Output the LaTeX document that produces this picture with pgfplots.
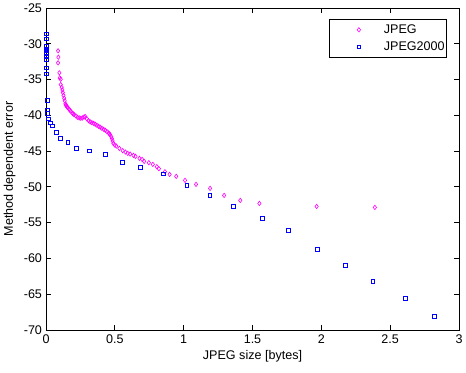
\documentclass[border=0pt]{standalone}
\usepackage{fontspec}
\setmainfont{Liberation Sans}
\usepackage{pgfplots}
\pgfplotsset{compat=1.18}
\definecolor{mmag}{rgb}{1,0,1}
\definecolor{mblue}{rgb}{0,0,1}
\newcommand{\mfont}{\fontsize{12.6}{15}\selectfont}
\begin{document}
\begin{tikzpicture}
\path[use as bounding box] (-46bp,-43bp) rectangle (420bp,330bp);
\begin{axis}[
  at={(0,0)}, anchor=south west,
  width=413bp, height=322bp, scale only axis,
  xmin=0, xmax=300000, ymin=-70, ymax=-25,
  xtick={0,50000,100000,150000,200000,250000,300000},
  xticklabels={0,0.5,1,1.5,2,2.5,3},
  scaled x ticks=false,
  ytick={-70,-65,...,-25},
  tick align=inside,
  major tick length=5bp,
  axis line style={line width=0.8bp},
  every tick/.style={line width=0.8bp, black},
  tick label style={font=\mfont},
  /pgf/number format/assume math mode=true,
  xticklabel style={yshift=-1bp},
  yticklabel style={xshift=-0.5bp},
  xlabel={JPEG size [bytes]},
  ylabel={Method dependent error},
  label style={font=\mfont},
  xlabel style={at={(axis description cs:0.5,0)}, anchor=north, yshift=-17bp},
  ylabel style={at={(axis description cs:0,0.5)}, anchor=south, yshift=27bp},
  legend style={at={(axis description cs:0.971,0.965)}, anchor=north east,
    font=\mfont, draw=black, line width=0.8bp, inner xsep=0bp, inner ysep=3bp,
    row sep=3bp, cells={anchor=west}},
  legend image code/.code={%
    \path[draw=none, fill=none] (0bp,-4bp) rectangle (53bp,4bp);
    \draw[#1, only marks, mark repeat=2, mark phase=2] plot coordinates {(0bp,0bp) (30bp,0bp) (53bp,0bp)};},
]
\addplot[only marks, mark=diamond, mark size=2.2bp, color=mmag, mark options={line width=0.6bp}]
coordinates {
(8760,-30.98) (9000,-31.87) (8760,-32.66) (9730,-34.06) (9980,-34.76)
(10700,-34.95) (10700,-35.70) (11400,-36.07) (11900,-36.44) (12200,-36.82)
(12700,-37.19) (13200,-37.61) (13600,-37.98) (14100,-38.40) (14500,-38.55)
(14800,-38.68) (15300,-38.80) (15800,-38.92) (16800,-39.15) (17400,-39.30)
(18000,-39.43) (19200,-39.71) (19800,-39.80) (20400,-39.90) (21700,-40.08)
(22900,-40.27) (24100,-40.36) (25300,-40.41) (26500,-40.36) (27700,-40.22)
(28500,-40.17) (29700,-40.50) (30900,-40.74) (32100,-40.92) (33300,-41.02)
(34600,-41.11) (35800,-41.25) (37000,-41.39) (38200,-41.53) (39400,-41.67)
(40600,-41.81) (41900,-41.95) (43100,-42.09) (44300,-42.28) (45500,-42.46)
(46000,-42.58) (46500,-42.70) (47400,-42.98) (47900,-43.26) (48400,-43.59)
(48900,-43.91) (49900,-44.15) (51100,-44.29) (53300,-44.61) (55700,-44.94)
(57700,-45.13) (59400,-45.31) (61100,-45.41) (63500,-45.59) (65000,-45.73)
(67900,-46.01) (69800,-46.15) (71300,-46.43) (74700,-46.62) (77600,-46.85)
(80500,-47.18) (82000,-47.46) (86400,-47.88) (89800,-48.25) (94600,-48.53)
(101000,-49.09) (109000,-49.65) (119200,-50.21) (129400,-51.19) (141100,-51.89)
(155000,-52.31) (196600,-52.73) (238900,-52.87)
};
\addlegendentry{JPEG}
\addplot[only marks, mark=square, mark size=1.8bp, color=mblue, mark options={line width=0.9bp}]
coordinates {
(300,-28.64) (300,-29.34) (300,-30.38) (300,-30.70) (300,-31.00)
(300,-31.36) (300,-31.72) (300,-32.28) (300,-33.40) (300,-34.24)
(950,-37.90) (950,-39.25) (950,-39.70) (1700,-40.50) (3100,-41.06)
(4900,-41.50) (7800,-42.37) (10700,-43.20) (15800,-43.77) (22100,-44.60)
(31600,-45.00) (43300,-45.45) (55700,-46.57) (68800,-47.27) (85200,-48.20)
(102400,-49.79) (119200,-51.19) (136000,-52.73) (157100,-54.41) (176100,-56.09)
(197300,-58.75) (217700,-60.99) (237400,-63.24) (261100,-65.62) (282000,-68.14)
};
\addlegendentry{JPEG2000}
\node[font=\mfont, anchor=base west, inner sep=0pt] at (axis description cs:0.895,-0.12) {x 10$^{\mathrm{5}}$};
\end{axis}
\end{tikzpicture}
\end{document}
